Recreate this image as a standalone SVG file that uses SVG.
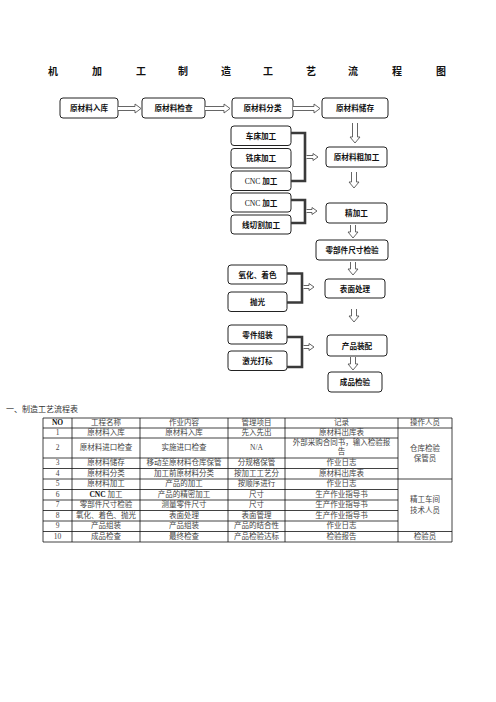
<svg xmlns="http://www.w3.org/2000/svg" width="496" height="702" viewBox="0 0 496 702">
<style>
.t{font-family:"Noto Sans CJK SC","Liberation Serif",sans-serif;font-weight:bold;font-size:10px;fill:#111;text-anchor:middle}
.b rect{fill:#fff;stroke:#222;stroke-width:1}
.b text{font-family:"Noto Sans CJK SC","Liberation Sans",sans-serif;font-weight:bold;font-size:7.6px;fill:#111;text-anchor:middle}
.lat{font-family:"Liberation Serif",serif;font-weight:normal}
.ha{fill:#fff;stroke:#555;stroke-width:0.9}
.br{fill:none;stroke:#3a3a3a;stroke-width:2.6}
.tb line{stroke:#111;stroke-width:0.8}
.tt{font-family:"Liberation Serif","Noto Sans CJK SC",serif;font-size:7.5px;fill:#444;text-anchor:middle}
.sec{font-family:"Liberation Serif","Noto Sans CJK SC",serif;font-size:8px;fill:#333}
</style>
<rect width="496" height="702" fill="#fff"/>
<g id="title">
<text class="t" x="53" y="75">机</text><text class="t" x="97" y="75">加</text><text class="t" x="141" y="75">工</text><text class="t" x="183" y="75">制</text><text class="t" x="226" y="75">造</text><text class="t" x="268" y="75">工</text><text class="t" x="311" y="75">艺</text><text class="t" x="353" y="75">流</text><text class="t" x="397" y="75">程</text><text class="t" x="441" y="75">图</text>
</g>
<g id="n1" class="b"><rect x="60" y="98" width="58" height="20" rx="3"/><text x="89" y="111">原材料入库</text></g>
<g id="n2" class="b"><rect x="142" y="98" width="63" height="20" rx="3"/><text x="173.5" y="111">原材料检查</text></g>
<g id="n3" class="b"><rect x="232" y="98" width="61" height="20" rx="3"/><text x="262.5" y="111">原材料分类</text></g>
<g id="n4" class="b"><rect x="322" y="98" width="66" height="20" rx="3"/><text x="355" y="111">原材料储存</text></g>
<g id="n5" class="b"><rect x="231" y="126" width="60" height="19.5" rx="3"/><text x="261" y="138.5">车床加工</text></g>
<g id="n6" class="b"><rect x="231" y="148.5" width="60" height="19.5" rx="3"/><text x="261" y="161">铣床加工</text></g>
<g id="n7" class="b"><rect x="231" y="171" width="60" height="19.5" rx="3"/><text x="261" y="183.5"><tspan class="lat">CNC </tspan>加工</text></g>
<g id="n8" class="b"><rect x="231" y="193" width="60" height="19" rx="3"/><text x="261" y="205.5"><tspan class="lat">CNC </tspan>加工</text></g>
<g id="n9" class="b"><rect x="231" y="215" width="60" height="19" rx="3"/><text x="261" y="227.5">线切割加工</text></g>
<g id="n10" class="b"><rect x="326" y="147" width="61" height="20" rx="3"/><text x="356.5" y="160">原材料粗加工</text></g>
<g id="n11" class="b"><rect x="326" y="203" width="61" height="20" rx="3"/><text x="356.5" y="216">精加工</text></g>
<g id="n12" class="b"><rect x="316" y="240" width="72" height="20" rx="3"/><text x="352" y="253">零部件尺寸检验</text></g>
<g id="n13" class="b"><rect x="228" y="265" width="59" height="19" rx="3"/><text x="257.5" y="277.5">氧化、着色</text></g>
<g id="n14" class="b"><rect x="228" y="292" width="59" height="19.5" rx="3"/><text x="257.5" y="304.5">抛光</text></g>
<g id="n15" class="b"><rect x="325" y="279" width="60" height="19" rx="3"/><text x="355" y="291.5">表面处理</text></g>
<g id="n16" class="b"><rect x="228" y="325" width="59" height="19" rx="3"/><text x="257.5" y="337.5">零件组装</text></g>
<g id="n17" class="b"><rect x="228" y="351" width="59" height="19.5" rx="3"/><text x="257.5" y="363.5">激光打标</text></g>
<g id="n18" class="b"><rect x="327" y="335" width="60" height="21" rx="3"/><text x="357" y="348.5">产品装配</text></g>
<g id="n19" class="b"><rect x="328" y="372" width="54" height="20" rx="3"/><text x="355" y="385">成品检验</text></g>
<g id="connectors">
<path class="ha" d="M118,106.5 H135 V104 L141,108.5 L135,113 V110.5 H118"/>
<path class="ha" d="M205,106.5 H224 V104 L230,108.5 L224,113 V110.5 H205"/>
<path class="ha" d="M293,106.5 H314 V104 L320,108.5 L314,113 V110.5 H293"/>
<path class="ha" d="M352.5,123 V137 H350 L355,143 L360,137 H357.5 V123"/>
<path class="ha" d="M351.5,172 V182 H349 L354,188 L359,182 H356.5 V172"/>
<path class="ha" d="M350.5,225 V232 H348 L353,238 L358,232 H355.5 V225"/>
<path class="ha" d="M350.5,262 V269 H348 L353,275 L358,269 H355.5 V262"/>
<path class="ha" d="M351.5,309 V316 H349 L354,322 L359,316 H356.5 V309"/>
<path class="ha" d="M350.5,357 V364 H348 L353,370 L358,364 H355.5 V357"/>
<path class="br" d="M291,133 H305 V181 H291"/>
<path class="ha" d="M306.5,155.5 H313 V153.5 L318,157 L313,160.5 V158.5 H306.5"/>
<path class="br" d="M291,200 H305 V223 H291"/>
<path class="ha" d="M306.5,209.5 H312 V207.5 L317,211 L312,214.5 V212.5 H306.5"/>
<path class="br" d="M287,273.5 H302 V302.5 H287"/>
<path class="ha" d="M303.5,285.5 H309 V283.5 L314,287 L309,290.5 V288.5 H303.5"/>
<path class="br" d="M287,337 H302 V367 H287"/>
<path class="ha" d="M303.5,345.5 H309 V343.5 L314,347 L309,350.5 V348.5 H303.5"/>
</g>
<text class="sec" x="6" y="412">一、制造工艺流程表</text>
<g id="table" class="tb">
<line x1="43" y1="418" x2="452" y2="418"/>
<line x1="43" y1="428" x2="452" y2="428"/>
<line x1="43" y1="438" x2="398" y2="438"/>
<line x1="43" y1="458" x2="398" y2="458"/>
<line x1="43" y1="468.5" x2="398" y2="468.5"/>
<line x1="43" y1="479" x2="452" y2="479"/>
<line x1="43" y1="489.5" x2="398" y2="489.5"/>
<line x1="43" y1="500" x2="398" y2="500"/>
<line x1="43" y1="510.5" x2="398" y2="510.5"/>
<line x1="43" y1="521" x2="398" y2="521"/>
<line x1="43" y1="531.5" x2="452" y2="531.5"/>
<line x1="43" y1="542" x2="452" y2="542"/>
<line x1="43" y1="418" x2="43" y2="542"/>
<line x1="72" y1="418" x2="72" y2="542"/>
<line x1="140" y1="418" x2="140" y2="542"/>
<line x1="228" y1="418" x2="228" y2="542"/>
<line x1="285" y1="418" x2="285" y2="542"/>
<line x1="398" y1="418" x2="398" y2="542"/>
<line x1="452" y1="418" x2="452" y2="542"/>
<g class="tt" transform="translate(0,-0.8)">
<text x="57.5" y="426" style="font-weight:bold;fill:#111">NO</text><text x="106" y="426">工程名称</text><text x="184" y="426">作业内容</text><text x="256.5" y="426">管理项目</text><text x="341.5" y="426">记录</text><text x="425" y="426">操作人员</text>
<text x="57.5" y="436">1</text><text x="106" y="436">原材料入库</text><text x="184" y="436">原材料入库</text><text x="256.5" y="436">先入先出</text><text x="341.5" y="436">原材料出库表</text>
<text x="57.5" y="451">2</text><text x="106" y="451">原材料进口检查</text><text x="184" y="451">实施进口检查</text><text x="256.5" y="451">N/A</text><text x="341.5" y="445.5">外部采购合同书，输入检验报</text><text x="341.5" y="455">告</text>
<text x="57.5" y="466">3</text><text x="106" y="466">原材料储存</text><text x="184" y="466">移动至原材料仓库保管</text><text x="256.5" y="466">分规格保管</text><text x="341.5" y="466">作业日志</text>
<text x="57.5" y="476.5">4</text><text x="106" y="476.5">原材料分类</text><text x="184" y="476.5">加工前原材料分类</text><text x="256.5" y="476.5">按加工工艺分</text><text x="341.5" y="476.5">原材料出库表</text>
<text x="57.5" y="487">5</text><text x="106" y="487">原材料加工</text><text x="184" y="487">产品的加工</text><text x="256.5" y="487">按顺序进行</text><text x="341.5" y="487">作业日志</text>
<text x="57.5" y="497.5">6</text><text x="106" y="497.5"><tspan style="font-weight:bold;fill:#111">CNC</tspan> 加工</text><text x="184" y="497.5">产品的精密加工</text><text x="256.5" y="497.5">尺寸</text><text x="341.5" y="497.5">生产作业指导书</text>
<text x="57.5" y="508">7</text><text x="106" y="508">零部件尺寸检验</text><text x="184" y="508">测量零件尺寸</text><text x="256.5" y="508">尺寸</text><text x="341.5" y="508">生产作业指导书</text>
<text x="57.5" y="518.5">8</text><text x="106" y="518.5">氧化、着色、抛光</text><text x="184" y="518.5">表面处理</text><text x="256.5" y="518.5">表面管理</text><text x="341.5" y="518.5">生产作业指导书</text>
<text x="57.5" y="529">9</text><text x="106" y="529">产品组装</text><text x="184" y="529">产品组装</text><text x="256.5" y="529">产品的结合性</text><text x="341.5" y="529">作业日志</text>
<text x="57.5" y="539.5">10</text><text x="106" y="539.5">成品检查</text><text x="184" y="539.5">最终检查</text><text x="256.5" y="539.5">产品检验达标</text><text x="341.5" y="539.5">检验报告</text><text x="425" y="539.5">检验员</text>
<text x="425" y="451.5">仓库检验</text><text x="425" y="462">保管员</text>
<text x="425" y="503">精工车间</text><text x="425" y="513.5">技术人员</text>
</g>
</g>
</svg>
